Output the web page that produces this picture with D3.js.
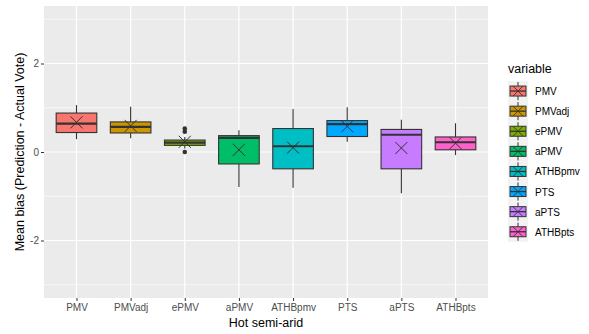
<!DOCTYPE html>
<html>
<head>
<meta charset="utf-8">
<script src="https://cdn.jsdelivr.net/npm/d3@7"></script>
<style>
  body { margin: 0; background: #fff; }
  svg { display: block; font-family: "Liberation Sans", Arial, sans-serif; }
</style>
</head>
<body>
<svg id="chart" width="589" height="334"></svg>
<script>
// Mean bias per model, hot semi-arid climate
const categories = ["PMV", "PMVadj", "ePMV", "aPMV", "ATHBpmv", "PTS", "aPTS", "ATHBpts"];
const colors = ["#F8766D", "#CD9600", "#7CAE00", "#00BE67", "#00BFC4", "#00A9FF", "#C77CFF", "#FF61CC"];
const whiskerLow  = [0.29, 0.31, 0.08, -0.79, -0.81, 0.23, -0.93, -0.07];
const q1          = [0.44, 0.43, 0.15, -0.27, -0.38, 0.35, -0.38, 0.05];
const medians     = [0.64, 0.57, 0.21, 0.32, 0.13, 0.63, 0.39, 0.22];
const q3          = [0.88, 0.68, 0.27, 0.37, 0.53, 0.71, 0.51, 0.34];
const whiskerHigh = [1.06, 1.02, 0.34, 0.49, 0.97, 1.01, 0.73, 0.65];
const means       = [0.67, 0.59, 0.23, 0.05, 0.10, 0.58, 0.09, 0.20];
const outliers    = [[], [], [0.46, 0.53, 0.0], [], [], [], [], []];
const yTicks = [-2, 0, 2];
const yMinor = [-3, -1, 1, 3];

const svg = d3.select("#chart");
const panel = { left: 44, top: 6, right: 488, bottom: 298 };

// discrete x positions with 0.6 category-widths of padding at each end
const step = (panel.right - panel.left) / (categories.length - 1 + 1.2);
const x = d3.scalePoint().domain(categories)
  .range([panel.left + 0.6 * step, panel.right - 0.6 * step]);

const y = d3.scaleLinear().domain([-3.3, 3.3]).range([panel.bottom, panel.top]);

// panel background
svg.append("rect")
  .attr("x", panel.left).attr("y", panel.top)
  .attr("width", panel.right - panel.left).attr("height", panel.bottom - panel.top)
  .attr("fill", "#ebebeb");

const grid = svg.append("g");
yMinor.forEach(v => grid.append("line")
  .attr("x1", panel.left).attr("x2", panel.right)
  .attr("y1", y(v)).attr("y2", y(v))
  .attr("stroke", "#fff").attr("stroke-width", 0.6));
yTicks.forEach(v => grid.append("line")
  .attr("x1", panel.left).attr("x2", panel.right)
  .attr("y1", y(v)).attr("y2", y(v))
  .attr("stroke", "#fff").attr("stroke-width", 1.2));
categories.forEach(c => grid.append("line")
  .attr("x1", x(c)).attr("x2", x(c))
  .attr("y1", panel.top).attr("y2", panel.bottom)
  .attr("stroke", "#fff").attr("stroke-width", 1.2));

// axes
const yAxis = d3.axisLeft(y).tickValues(yTicks).tickSize(3).tickPadding(2)
  .tickFormat(d => d < 0 ? "-" + Math.abs(d) : d);
const gy = svg.append("g").attr("transform", `translate(${panel.left},0)`).call(yAxis);
gy.select(".domain").remove();
gy.selectAll("line").attr("stroke", "#333").attr("stroke-width", 1);
gy.selectAll("text").attr("fill", "#4d4d4d").style("font-size", "10px");

const xAxis = d3.axisBottom(x).tickSize(3).tickPadding(3);
const gx = svg.append("g").attr("transform", `translate(0,${panel.bottom})`).call(xAxis);
gx.select(".domain").remove();
gx.selectAll("line").attr("stroke", "#333").attr("stroke-width", 1);
gx.selectAll("text").attr("fill", "#4d4d4d").style("font-size", "10px");

// boxplots
const bw = step * 0.75;
const boxes = svg.append("g");
categories.forEach((c, i) => {
  const g = boxes.append("g");
  const xc = x(c);
  g.append("line").attr("x1", xc).attr("x2", xc)
    .attr("y1", y(whiskerHigh[i])).attr("y2", y(q3[i]))
    .attr("stroke", "#333").attr("stroke-width", 1.1);
  g.append("line").attr("x1", xc).attr("x2", xc)
    .attr("y1", y(q1[i])).attr("y2", y(whiskerLow[i]))
    .attr("stroke", "#333").attr("stroke-width", 1.1);
  g.append("rect")
    .attr("x", xc - bw / 2).attr("y", y(q3[i]))
    .attr("width", bw).attr("height", y(q1[i]) - y(q3[i]))
    .attr("fill", colors[i]).attr("stroke", "#333").attr("stroke-width", 1.1);
  g.append("line").attr("x1", xc - bw / 2).attr("x2", xc + bw / 2)
    .attr("y1", y(medians[i])).attr("y2", y(medians[i]))
    .attr("stroke", "#333").attr("stroke-width", 2.2);
  outliers[i].forEach(v => g.append("circle")
    .attr("cx", xc).attr("cy", y(v)).attr("r", 2.3).attr("fill", "#333"));
  // mean marker
  const m = y(means[i]), s = 6;
  g.append("path")
    .attr("d", `M${xc - s},${m - s}L${xc + s},${m + s}M${xc - s},${m + s}L${xc + s},${m - s}`)
    .attr("stroke", "#333").attr("stroke-width", 1);
});

// axis titles
svg.append("text")
  .attr("x", (panel.left + panel.right) / 2).attr("y", 327)
  .attr("text-anchor", "middle").attr("fill", "#000")
  .style("font-size", "12.5px").text("Hot semi-arid");
svg.append("text")
  .attr("transform", `translate(24,${(panel.top + panel.bottom) / 2}) rotate(-90)`)
  .attr("text-anchor", "middle").attr("fill", "#000")
  .style("font-size", "12.5px").text("Mean bias (Prediction - Actual Vote)");

// legend
const legend = svg.append("g").attr("transform", "translate(508,81)");
legend.append("text").attr("x", 0).attr("y", -8)
  .attr("fill", "#000").style("font-size", "12.5px").text("variable");
const kh = 20.1, kw = 20;
categories.forEach((c, i) => {
  const k = legend.append("g").attr("transform", `translate(0,${i * kh})`);
  k.append("rect").attr("width", kw).attr("height", kh).attr("fill", "#f2f2f2");
  const mx = kw / 2, my = kh / 2;
  k.append("line").attr("x1", mx).attr("x2", mx).attr("y1", 1).attr("y2", kh - 1)
    .attr("stroke", "#333").attr("stroke-width", 1);
  k.append("rect").attr("x", 2).attr("y", my - 5).attr("width", kw - 4).attr("height", 10)
    .attr("fill", colors[i]).attr("stroke", "#333").attr("stroke-width", 1);
  k.append("line").attr("x1", 2).attr("x2", kw - 2).attr("y1", my).attr("y2", my)
    .attr("stroke", "#333").attr("stroke-width", 1.3);
  const s = 5;
  k.append("path")
    .attr("d", `M${mx - s},${my - s}L${mx + s},${my + s}M${mx - s},${my + s}L${mx + s},${my - s}`)
    .attr("stroke", "#333").attr("stroke-width", 0.9);
  k.append("text").attr("x", kw + 7).attr("y", my + 4)
    .attr("fill", "#000").style("font-size", "10px").text(c);
});
</script>
</body>
</html>
